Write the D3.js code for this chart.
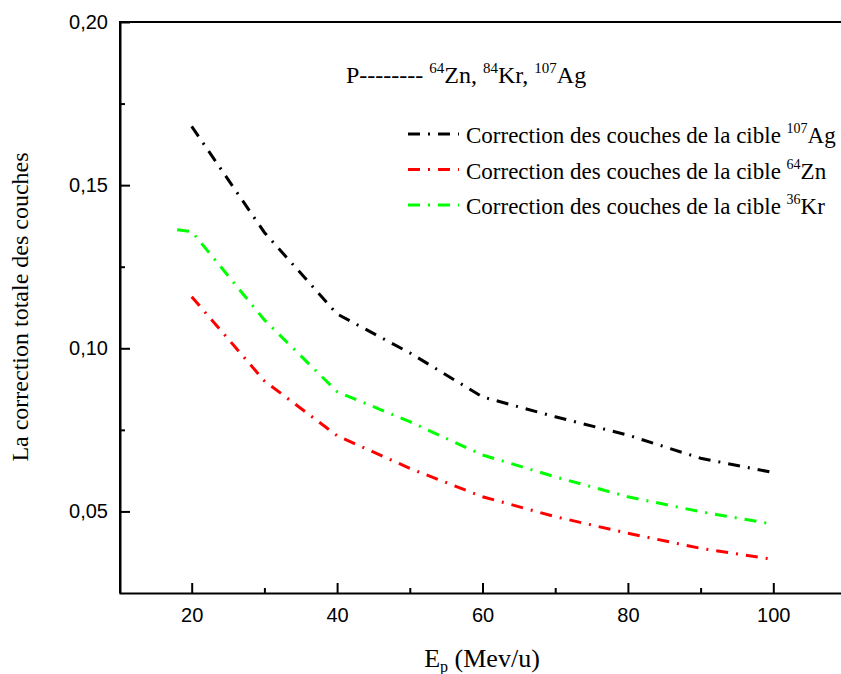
<!DOCTYPE html>
<html>
<head>
<meta charset="utf-8">
<script src="https://cdn.jsdelivr.net/npm/d3@7"></script>
<style>
  body { margin: 0; background: #fff; }
  svg { display: block; }
</style>
</head>
<body>
<div id="chart"></div>
<script>
// energy grid (Mev/u) and the three correction curves
var energies = [20, 30, 40, 50, 60, 70, 80, 90, 100];
var energiesKr = [18, 20, 30, 40, 50, 60, 70, 80, 90, 100];

var corrAg = [0.168, 0.1355, 0.1105, 0.0986, 0.0851, 0.079, 0.0734, 0.0663, 0.0619];
var corrZn = [0.1158, 0.090, 0.0732, 0.0632, 0.0545, 0.0484, 0.0433, 0.0387, 0.0353];
var corrKr = [0.1363, 0.1358, 0.1087, 0.0867, 0.0775, 0.0673, 0.0606, 0.0545, 0.0499, 0.0461];

var xTicks = [20, 40, 60, 80, 100];
var yTicks = [0.05, 0.10, 0.15, 0.20];

var legendMass = ["107", "64", "36"];
var legendElem = ["Ag", "Zn", "Kr"];
var legendColor = ["#000000", "#ff0000", "#00ff00"];

var width = 841;
var height = 674;
// plot frame (note: "top" is a reserved window global, so use other names)
var plotLeft = 120, plotRight = 846, plotTop = 22, plotBottom = 593;

var dash = "12,8,2,8";
var serif = "'Liberation Serif', 'Times New Roman', serif";
var sans = "'Liberation Sans', Arial, sans-serif";

var svg = d3.select("#chart")
            .append("svg")
            .attr("width", width)
            .attr("height", height);

var x = d3.scaleLinear().domain([10, 110]).range([119, plotRight]);
var y = d3.scaleLinear().domain([0.025, 0.2]).range([plotBottom, plotTop]);

var fmt = function(d) { return d3.format(".2f")(d).replace(".", ","); };

// minor ticks first (no labels)
svg.append("g")
   .attr("transform", "translate(0," + plotBottom + ")")
   .call(d3.axisBottom(x).tickValues([30, 50, 70, 90]).tickSize(-5).tickFormat(""))
   .call(function(g) { g.select(".domain").remove(); });
svg.append("g")
   .attr("transform", "translate(" + plotLeft + ",0)")
   .call(d3.axisLeft(y).tickValues([0.075, 0.125, 0.175]).tickSize(-5).tickFormat(""))
   .call(function(g) { g.select(".domain").remove(); });

// major axes
svg.append("g")
   .attr("transform", "translate(0," + plotBottom + ")")
   .call(d3.axisBottom(x).tickValues(xTicks).tickSize(-10).tickPadding(15).tickSizeOuter(0));
svg.append("g")
   .attr("transform", "translate(" + plotLeft + ",0)")
   .call(d3.axisLeft(y).tickValues(yTicks).tickSize(-10).tickPadding(12).tickSizeOuter(0).tickFormat(fmt));

svg.selectAll(".tick line").attr("stroke", "#000").attr("stroke-width", 2);
svg.selectAll(".domain").attr("stroke", "#000").attr("stroke-width", 2);
svg.selectAll(".tick text").attr("font-family", sans).attr("font-size", 20).attr("fill", "#000");

// top frame line
svg.append("line")
   .attr("x1", plotLeft).attr("x2", plotRight)
   .attr("y1", plotTop).attr("y2", plotTop)
   .attr("stroke", "#000").attr("stroke-width", 2);
svg.append("line")
   .attr("x1", plotLeft).attr("x2", plotLeft)
   .attr("y1", plotTop - 1).attr("y2", plotBottom)
   .attr("stroke", "#000").attr("stroke-width", 2);

// curves
var line = d3.line()
             .x(function(d) { return x(d[0]); })
             .y(function(d) { return y(d[1]); });

var series = [
  { xs: energies, ys: corrAg, color: legendColor[0] },
  { xs: energies, ys: corrZn, color: legendColor[1] },
  { xs: energiesKr, ys: corrKr, color: legendColor[2] }
];

svg.append("g")
   .selectAll("path")
   .data(series)
   .enter()
   .append("path")
   .attr("fill", "none")
   .attr("stroke", function(d) { return d.color; })
   .attr("stroke-width", 3)
   .attr("stroke-dasharray", dash)
   .attr("d", function(d) { return line(d.xs.map(function(v, i) { return [v, d.ys[i]]; })); });

// title
var title = svg.append("text")
   .attr("x", 346).attr("y", 83)
   .attr("font-family", serif).attr("font-size", 24).attr("fill", "#000");
title.append("tspan").text("P-------- ");
title.append("tspan").attr("font-size", 15).attr("dy", -10).text("64");
title.append("tspan").attr("dy", 10).text("Zn, ");
title.append("tspan").attr("font-size", 15).attr("dy", -10).text("84");
title.append("tspan").attr("dy", 10).text("Kr, ");
title.append("tspan").attr("font-size", 15).attr("dy", -10).text("107");
title.append("tspan").attr("dy", 10).text("Ag");

// legend
var legend = svg.append("g");
legendElem.forEach(function(el, i) {
  var ly = 134 + i * 35.5;
  legend.append("line")
        .attr("x1", 408).attr("x2", 459)
        .attr("y1", ly).attr("y2", ly)
        .attr("stroke", legendColor[i])
        .attr("stroke-width", 3)
        .attr("stroke-dasharray", dash);
  var t = legend.append("text")
        .attr("x", 466).attr("y", ly + 9)
        .attr("font-family", serif).attr("font-size", 23).attr("fill", "#000");
  t.append("tspan").text("Correction des couches de la cible ");
  t.append("tspan").attr("font-size", 14).attr("dy", -10).text(legendMass[i]);
  t.append("tspan").attr("dy", 10).text(el);
});

// axis titles
var xl = svg.append("text")
   .attr("x", 482).attr("y", 667)
   .attr("text-anchor", "middle")
   .attr("font-family", serif).attr("font-size", 26).attr("fill", "#000");
xl.append("tspan").text("E");
xl.append("tspan").attr("font-size", 16).attr("dy", 5).text("p");
xl.append("tspan").attr("dy", -5).text(" (Mev/u)");

svg.append("text")
   .attr("transform", "translate(28,307) rotate(-90)")
   .attr("text-anchor", "middle")
   .attr("font-family", serif).attr("font-size", 24).attr("fill", "#000")
   .text("La correction totale des couches");
</script>
</body>
</html>
